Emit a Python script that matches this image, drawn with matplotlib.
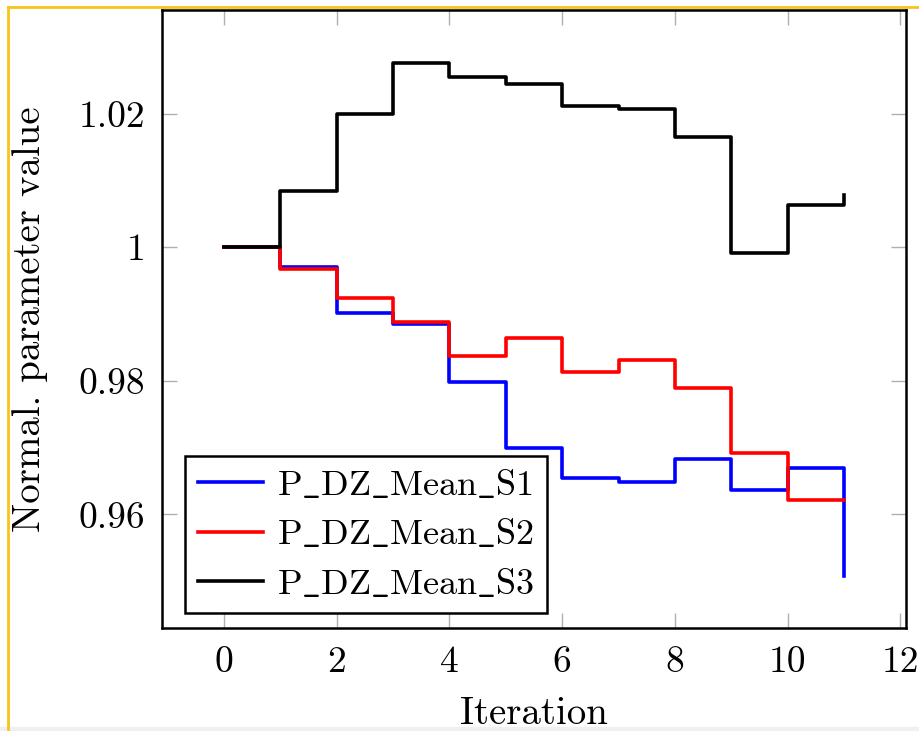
import matplotlib
matplotlib.use('Agg')
import matplotlib.pyplot as plt
from matplotlib.lines import Line2D

# iterations and normalised parameter values
iteration = [0, 1, 2, 3, 4, 5, 6, 7, 8, 9, 10, 11]
s1 = [1.0, 0.99706, 0.9902, 0.98846, 0.97975, 0.96996, 0.96542, 0.96488, 0.96825, 0.96363, 0.96701, 0.95075]
s2 = [1.0, 0.99667, 0.99243, 0.98885, 0.98373, 0.98637, 0.98139, 0.98318, 0.97890, 0.96925, 0.96219, 0.96219]
s3 = [1.0, 1.00836, 1.0199, 1.0276, 1.02552, 1.02448, 1.0212, 1.02075, 1.01642, 0.9991, 1.00627, 1.00776]
labels = [r'$\mathrm{P\_DZ\_Mean\_S1}$', r'$\mathrm{P\_DZ\_Mean\_S2}$', r'$\mathrm{P\_DZ\_Mean\_S3}$']
xticks = [0, 2, 4, 6, 8, 10, 12]
yticks = [0.96, 0.98, 1.0, 1.02]
yticklabels = ['0.96', '0.98', '1', '1.02']


def main():
    plt.rcParams['font.family'] = 'serif'
    plt.rcParams['font.serif'] = ['cmr10']
    plt.rcParams['mathtext.fontset'] = 'cm'
    plt.rcParams['axes.formatter.use_mathtext'] = True

    fig = plt.figure(figsize=(9.19, 7.31), dpi=100)
    ax = fig.add_axes([162 / 919, 103 / 731, 744 / 919, 618 / 731])

    lw = 2.6
    ax.step(iteration, s1, where='post', color='blue', lw=lw, label=labels[0])
    ax.step(iteration, s2, where='post', color='red', lw=lw, label=labels[1])
    ax.step(iteration, s3, where='post', color='black', lw=lw, label=labels[2])

    ax.set_xlim(-1.1, 12.1)
    ax.set_ylim(0.943, 1.0355)
    ax.set_xticks(xticks)
    ax.set_xticklabels([str(t) for t in xticks])
    ax.set_yticks(yticks)
    ax.set_yticklabels(yticklabels)
    ax.tick_params(direction='in', length=11, width=1, color='#b0b0b0',
                   top=True, right=True, labelsize=27)
    ax.tick_params(axis='y', pad=12)
    ax.tick_params(axis='x', pad=13)
    for sp in ax.spines.values():
        sp.set_linewidth(1.8)

    ax.set_xlabel('Iteration', fontsize=28)
    ax.set_ylabel('Normal. parameter value', fontsize=28)
    ax.xaxis.set_label_coords(0.5, -0.11)
    ax.yaxis.set_label_coords(-0.153, 0.5)

    leg = ax.legend(loc='lower left', fontsize=26, frameon=True, fancybox=False,
                    edgecolor='black', framealpha=1, handlelength=1.8,
                    borderpad=0.35, labelspacing=0.45, handletextpad=0.4,
                    borderaxespad=0, bbox_to_anchor=(0.031, 0.024))
    leg.get_frame().set_linewidth(1.8)
    for h in leg.get_lines():
        h.set_linewidth(lw)

    # yellow border and grey strip of the screenshot
    fig.add_artist(Line2D([8 / 919, 8 / 919], [0, 1 - 7 / 731], color='#f5c518', lw=2,
                          transform=fig.transFigure))
    fig.add_artist(Line2D([8 / 919, 1], [1 - 7 / 731, 1 - 7 / 731], color='#f5c518', lw=2,
                          transform=fig.transFigure))
    fig.add_artist(plt.Rectangle((0, 0), 1, 4 / 731, color='#f0f0f0',
                                 transform=fig.transFigure))

    fig.savefig('out.png', dpi=100)


if __name__ == "__main__":
    main()
